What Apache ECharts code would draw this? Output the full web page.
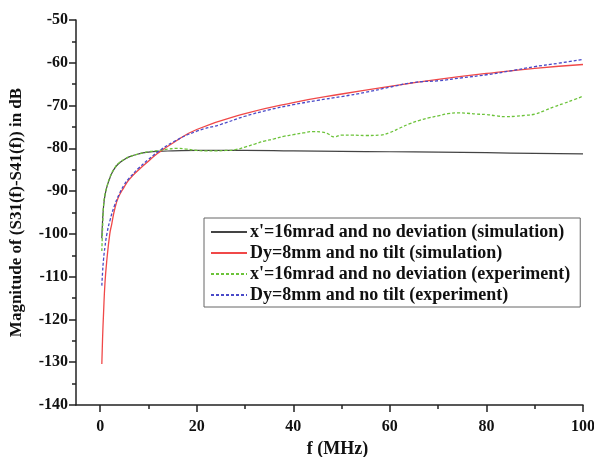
<!DOCTYPE html>
<html>
<head>
<meta charset="utf-8">
<script src="https://cdn.jsdelivr.net/npm/echarts@6/dist/echarts.min.js"></script>
<style>html,body{margin:0;padding:0;background:#fff}#c{width:594px;height:457px}</style>
</head>
<body>
<div id="c"></div>
<script>
// Frequencies (MHz) for simulated curves
var fSim = [0.35,0.5,0.7,1,1.4,2,2.4,3,3.8,5,6,8,10,12,15,20,30,40,50,60,70,80,90,100];
var tiltSim = [-101,-97,-93.7,-91,-89,-87,-85.9,-84.7,-83.6,-82.6,-82.0,-81.3,-80.9,-80.7,-80.6,-80.5,-80.5,-80.6,-80.7,-80.8,-80.9,-81.0,-81.2,-81.3];
var devSim = [-130.4,-124.5,-118.7,-111.5,-106,-100,-97.7,-94.3,-91.4,-89,-87.3,-85,-83,-81.1,-78.8,-75.6,-71.9,-69.3,-67.3,-65.5,-63.9,-62.5,-61.3,-60.4];
// Frequencies (MHz) for measured curves
var fExpTilt = [0.35,0.5,0.7,1,1.4,2,3,4,5,6,8,10,12,14,16,18,20,22,24,26,28,30,32,34,36,38,40,42,44,46,47,48.5,50,52,55,58,60,62,64,66,68,70,72,74,76,78,80,82,84,86,88,90,92,94,96,98,100];
var tiltExp = [-104,-99,-93.5,-90.8,-89,-86.8,-84.6,-83.3,-82.6,-82,-81.3,-80.8,-80.5,-80.2,-80.0,-80.2,-80.5,-80.6,-80.6,-80.5,-80.3,-79.7,-79.0,-78.3,-77.8,-77.2,-76.8,-76.4,-76.1,-76.2,-76.5,-77.3,-76.9,-76.9,-77.0,-76.9,-76.3,-75.3,-74.3,-73.5,-72.9,-72.4,-71.9,-71.7,-71.8,-72.0,-72.1,-72.4,-72.6,-72.5,-72.3,-72.0,-71.2,-70.3,-69.5,-68.7,-67.8];
var fExpDev = [0.35,0.5,0.7,1,1.4,2,3,4,5,6,8,10,12,15,20,25,30,35,40,45,50,55,60,65,70,75,80,85,90,95,100];
var devExp = [-112.1,-109,-106,-103,-100,-97,-93.3,-90.6,-88.5,-87,-84.6,-82.6,-80.8,-78.6,-76.0,-74.4,-72.5,-71.0,-69.8,-68.8,-67.9,-66.9,-65.7,-64.6,-64.2,-63.5,-62.8,-61.9,-60.9,-60.1,-59.2];

var xMajor = [0,20,40,60,80,100];
var xMinor = [10,30,50,70,90];
var names = [
  "x'=16mrad and no deviation (simulation)",
  "Dy=8mm and no tilt (simulation)",
  "x'=16mrad and no deviation (experiment)",
  "Dy=8mm and no tilt (experiment)"
];

function pairs(xs, ys){ return xs.map(function(x,i){ return [x, ys[i]]; }); }

var FONT = '"Liberation Serif","Times New Roman",serif';
var chart = echarts.init(document.getElementById('c'), null, {renderer:'canvas'});
chart.setOption({
  animation:false,
  backgroundColor:'#fff',
  grid:{left:76, right:11, top:20, bottom:52, containLabel:false, outerBoundsMode:'none'},
  xAxis:[{
    type:'value', min:-5, max:100,
    name:'f (MHz)', nameLocation:'middle', nameGap:32,
    nameTextStyle:{fontFamily:FONT, fontWeight:'bold', fontSize:18, color:'#111', padding:[0,0,0,16]},
    axisLine:{show:true, onZero:false, lineStyle:{color:'#222', width:1.5}},
    axisTick:{show:true, inside:false, length:7, customValues:xMajor, lineStyle:{color:'#222', width:1.5}},
    axisLabel:{customValues:xMajor, margin:14, fontFamily:FONT, fontWeight:'bold', fontSize:16, color:'#111'},
    splitLine:{show:false}
  },{
    type:'value', min:-5, max:100, position:'bottom', gridIndex:0,
    axisLine:{show:false, onZero:false},
    axisTick:{show:true, inside:false, length:4, customValues:xMinor, lineStyle:{color:'#222', width:1.5}},
    axisLabel:{show:false},
    splitLine:{show:false}
  }],
  yAxis:{
    type:'value', min:-140, max:-50, interval:10,
    name:'Magnitude of (S31(f)-S41(f)) in dB', nameLocation:'middle', nameGap:51,
    nameTextStyle:{fontFamily:FONT, fontWeight:'bold', fontSize:17, color:'#111'},
    axisLine:{show:true, onZero:false, lineStyle:{color:'#222', width:1.5}},
    axisTick:{show:true, inside:false, length:7, lineStyle:{color:'#222', width:1.5}},
    minorTick:{show:true, splitNumber:2, length:4, lineStyle:{color:'#222', width:1.5}},
    axisLabel:{margin:8, fontFamily:FONT, fontWeight:'bold', fontSize:16, color:'#111'},
    splitLine:{show:false}
  },
  legend:{
    orient:'vertical', left:204, top:218,
    padding:[5,10,3,6], itemGap:3, itemWidth:36, itemHeight:14,
    borderColor:'#666', borderWidth:1, backgroundColor:'#fff',
    itemStyle:{opacity:0},
    textStyle:{fontFamily:FONT, fontWeight:'bold', fontSize:18, lineHeight:18, color:'#111', padding:[0,0,0,-2]},
    data:names
  },
  series:[
    {name:names[0], type:'line', data:pairs(fSim, tiltSim), showSymbol:false, symbol:'none', smooth:true,
     lineStyle:{color:'#444', width:1.2}, itemStyle:{color:'#444'}, z:2},
    {name:names[1], type:'line', data:pairs(fSim, devSim), showSymbol:false, symbol:'none', smooth:true,
     lineStyle:{color:'#f04848', width:1.3}, itemStyle:{color:'#f04848'}, z:3},
    {name:names[2], type:'line', data:pairs(fExpTilt, tiltExp), showSymbol:false, symbol:'none', smooth:true,
     lineStyle:{color:'#6cc33a', width:1.3, type:[3,2]}, itemStyle:{color:'#6cc33a'}, z:4},
    {name:names[3], type:'line', data:pairs(fExpDev, devExp), showSymbol:false, symbol:'none', smooth:true,
     lineStyle:{color:'#4a4ac8', width:1.3, type:[3,2]}, itemStyle:{color:'#4a4ac8'}, z:5}
  ]
});
</script>
</body>
</html>
